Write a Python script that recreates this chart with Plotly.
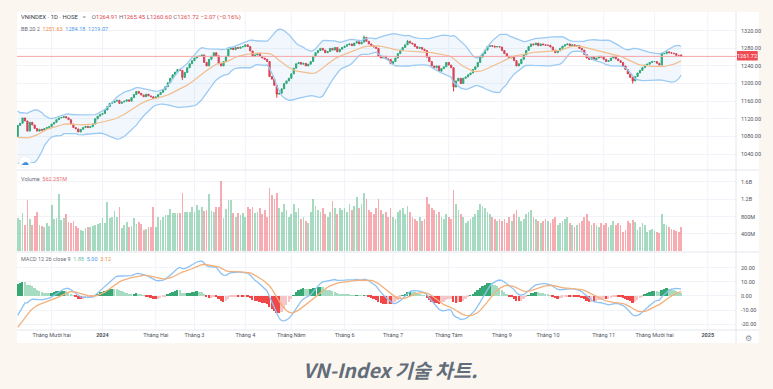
import pandas as pd
import plotly.graph_objects as go

# ---------------- data ----------------
# closes before the visible window (Aug 1 - Nov 10, 2023), used only for indicators
prior_closes = [1222, 1215, 1208, 1215, 1217, 1225, 1235, 1240, 1232, 1238, 1240, 1228, 1230,
                1177, 1175, 1170, 1180, 1185, 1178, 1180, 1176, 1180, 1180,
                1185, 1200, 1212, 1228, 1240, 1245, 1240, 1230, 1228, 1230, 1215, 1220, 1218,
                1215, 1190, 1180, 1170, 1165, 1154,
                1150, 1145, 1130, 1135, 1140, 1150, 1160, 1155, 1152, 1145, 1140, 1130, 1120,
                1115, 1105, 1085, 1080, 1065, 1040, 1030, 1030, 1028,
                1050, 1065, 1072, 1085, 1085, 1100, 1090, 1080]

# visible daily closes, Nov 13 2023 - Dec 17 2024
closes = (
    [1105, 1110, 1122, 1115, 1092, 1112, 1106, 1098, 1092, 1096, 1094, 1098, 1100, 1102]  # Nov 23
    + [1108, 1112, 1118, 1122, 1123, 1125, 1122, 1118, 1108, 1100, 1097, 1090, 1096, 1100,
       1103, 1100, 1102, 1108, 1120, 1126, 1130]  # Dec 23
    + [1132, 1140, 1148, 1155, 1157, 1160, 1162, 1155, 1158, 1160, 1163, 1160, 1168, 1175,
       1182, 1178, 1174, 1170, 1176, 1172, 1170, 1166]  # Jan
    + [1170, 1175, 1180, 1186, 1193, 1202, 1212, 1220, 1226, 1232, 1230, 1214, 1225, 1236,
       1245, 1252]  # Feb
    + [1258, 1262, 1262, 1265, 1248, 1240, 1255, 1262, 1270, 1263, 1245, 1240, 1250, 1262,
       1278, 1281, 1277, 1282, 1280, 1283, 1284]  # Mar
    + [1288, 1284, 1274, 1262, 1265, 1268, 1262, 1258, 1255, 1250, 1216, 1210, 1196, 1176,
       1178, 1188, 1200, 1206, 1212]  # Apr
    + [1222, 1235, 1245, 1248, 1244, 1246, 1240, 1244, 1250, 1262, 1270, 1275, 1280, 1276,
       1270, 1273, 1280, 1276, 1282, 1272, 1278, 1282]  # May
    + [1285, 1288, 1290, 1286, 1292, 1295, 1290, 1294, 1305, 1296, 1290, 1286, 1283, 1280,
       1262, 1258, 1262, 1256, 1255, 1245]  # Jun
    + [1250, 1258, 1268, 1276, 1282, 1288, 1296, 1292, 1290, 1284, 1280, 1282, 1278, 1275,
       1260, 1250, 1240, 1236, 1240, 1228, 1234, 1238, 1248]  # Jul
    + [1242, 1236, 1192, 1206, 1212, 1200, 1212, 1215, 1220, 1224, 1232, 1238, 1248, 1260,
       1268, 1276, 1284, 1286, 1285, 1283, 1284, 1283]  # Aug
    + [1275, 1268, 1262, 1258, 1262, 1252, 1240, 1245, 1255, 1265, 1275, 1284, 1290, 1288,
       1292, 1286, 1290, 1288, 1287]  # Sep
    + [1287, 1283, 1276, 1270, 1274, 1280, 1285, 1288, 1290, 1286, 1288, 1284, 1286, 1280,
       1276, 1266, 1258, 1255, 1260, 1254, 1258, 1262, 1260]  # Oct
    + [1255, 1250, 1252, 1258, 1262, 1256, 1252, 1248, 1240, 1232, 1222, 1214, 1206, 1216,
       1224, 1230, 1236, 1242, 1244, 1248, 1250]  # Nov
    + [1250, 1246, 1242, 1268, 1268, 1272, 1270, 1269, 1268, 1264, 1263.79, 1261.72]  # Dec
)

# notable wicks
wick_highs = {143: 1309, 161: 1299, 266: 1270}
wick_lows = {107: 1168, 180: 1182, 254: 1200, 68: 1208}

last_ohlc = [1264.91, 1265.45, 1260.60, 1261.72]
last_change = "−2.07 (−0.16%)"

# volume in millions
volumes_m = (
    [770, 720, 890, 607, 1180, 738, 607, 814, 913, 607, 584, 568, 653, 584, 1067, 738, 768,
     1313, 722, 768, 853, 683, 646, 699, 584, 531, 492, 469, 531, 568, 568, 584, 607, 623,
     646, 775, 646, 1143, 761, 798, 936, 798, 1028, 531, 607, 683, 568, 584, 761, 623, 683,
     623, 492, 508, 568, 568, 1028, 568, 798, 722, 798, 837, 837, 968, 876, 890, 876, 890,
     1336, 913, 913, 913, 1028, 913, 1067, 952, 1028, 936, 952, 1313, 936, 913, 1028, 1028,
     1625, 775, 968, 1181, 1181, 890, 798, 890, 837, 890, 798, 1028, 968, 1028, 890]
    + [900, 1000, 850, 950, 800, 1450, 1300, 1200, 1350, 1000, 900, 1100, 950, 800]
    + [850, 1100, 900, 1000, 750, 800, 700, 650, 900, 1200, 1050, 950, 900, 1000, 850, 800,
       900, 1150, 1000, 850, 1000, 950]
    + [1000, 900, 1100, 950, 1050, 1250, 1000, 1100, 1350, 1200, 950, 900, 850, 1000, 1200,
       950, 850, 900, 800, 1000]
    + [800, 750, 900, 950, 1000, 850, 1050, 900, 800, 750, 700, 800, 700, 750, 1250, 1100,
       1000, 950, 850, 900, 800, 750, 850]
    + [800, 750, 1400, 1100, 950, 850, 800, 650, 700, 750, 800, 850, 950, 1100, 1050, 1000,
       900, 850, 800, 750, 700, 750]
    + [700, 750, 650, 800, 700, 850, 950, 800, 700, 750, 850, 900, 950, 800, 750, 700, 650,
       700, 750]
    + [700, 650, 750, 800, 600, 650, 700, 750, 800, 650, 600, 550, 600, 650, 700, 800, 850,
       700, 600, 650, 600, 550, 650]
    + [600, 650, 550, 600, 700, 600, 650, 600, 450, 500, 700, 650, 720, 680, 500, 550, 650,
       600, 450, 500, 520]
    + [480, 450, 420, 860, 620, 600, 550, 520, 500, 480, 450, 562.251]
)

month_ticks = [14, 35, 57, 73, 94, 113, 135, 155, 178, 200, 219, 242, 263, 285]
month_labels = ["Tháng Mười hai", "<b>2024</b>", "Tháng Hai", "Tháng 3", "Tháng 4", "Tháng Năm",
                "Tháng 6", "Tháng 7", "Tháng Tám", "Tháng 9", "Tháng 10", "Tháng 11",
                "Tháng Mười hai", "<b>2025</b>"]
price_ticks = [1040, 1080, 1120, 1160, 1200, 1240, 1280, 1320]
vol_ticks = [400e6, 800e6, 1.2e9, 1.6e9]
vol_labels = ["400M", "800M", "1.2B", "1.6B"]
macd_ticks = [-20, -10, 0, 10, 20]
caption = "VN-Index 기술 차트."

# ---------------- indicators ----------------
n0 = len(prior_closes)
allc = pd.Series(prior_closes + closes, dtype=float)
basis = allc.rolling(20).mean()
dev = allc.rolling(20).std(ddof=0)
upper = basis + 2 * dev
lower = basis - 2 * dev
ema12 = allc.ewm(span=12, adjust=False).mean()
ema26 = allc.ewm(span=26, adjust=False).mean()
macd = ema12 - ema26
signal = macd.ewm(span=9, adjust=False).mean()
hist = macd - signal

N = len(closes)
x = list(range(N))
opens = [allc[n0 - 1 + i] for i in range(N)]
opens[-1] = last_ohlc[0]
highs = [max(o, c) for o, c in zip(opens, closes)]
lows = [min(o, c) for o, c in zip(opens, closes)]
for k, v in wick_highs.items():
    highs[k] = v
for k, v in wick_lows.items():
    lows[k] = v
highs[-1] = last_ohlc[1]
lows[-1] = last_ohlc[2]

bb_up = upper[n0:].tolist()
bb_lo = lower[n0:].tolist()
bb_mid = basis[n0:].tolist()
m_line = macd[n0:].tolist()
s_line = signal[n0:].tolist()
h_vals = hist[n0:].tolist()
h_prev = hist[n0 - 1:-1].tolist()

UP = "#2aa86c"
DN = "#e23a44"
vol_colors = ["rgba(42,168,108,0.42)" if c >= o else "rgba(235,70,80,0.45)"
              for o, c in zip(opens, closes)]
h_colors = []
for h, p in zip(h_vals, h_prev):
    if h >= 0:
        h_colors.append("#37a873" if h > p else "#a8dcc2")
    else:
        h_colors.append("#f6c6c6" if h > p else "#f04848")

# ---------------- figure ----------------
W, H = 773, 389
L, R, T, B = 17, 744, 12, 330
pw, ph = R - L, B - T


def px(xp):
    return (xp - L) / pw


def py(yp):
    return (B - yp) / ph


fig = go.Figure()

# Bollinger band fill & lines
fig.add_trace(go.Scatter(x=x, y=bb_up, mode="lines", line=dict(color="#9ccaf3", width=1.3),
                         xaxis="x", yaxis="y", hoverinfo="skip"))
fig.add_trace(go.Scatter(x=x, y=bb_lo, mode="lines", line=dict(color="#9ccaf3", width=1.3),
                         fill="tonexty", fillcolor="rgba(120,180,240,0.10)",
                         xaxis="x", yaxis="y", hoverinfo="skip"))
fig.add_trace(go.Scatter(x=x, y=bb_mid, mode="lines", line=dict(color="#f3bd8c", width=1.2),
                         xaxis="x", yaxis="y", hoverinfo="skip"))
fig.add_trace(go.Candlestick(x=x, open=opens, high=highs, low=lows, close=closes,
                             increasing=dict(line=dict(color=UP, width=1), fillcolor=UP),
                             decreasing=dict(line=dict(color=DN, width=1), fillcolor=DN),
                             whiskerwidth=0, xaxis="x", yaxis="y"))

# Volume
fig.add_trace(go.Bar(x=x, y=[v * 1e6 for v in volumes_m],
                     marker=dict(color=vol_colors, line=dict(width=0)),
                     width=0.72, xaxis="x", yaxis="y2"))

# MACD
fig.add_trace(go.Bar(x=x, y=h_vals, marker=dict(color=h_colors, line=dict(width=0)),
                     width=0.75, xaxis="x", yaxis="y3"))
fig.add_trace(go.Scatter(x=x, y=m_line, mode="lines", line=dict(color="#8ec2f4", width=1.3),
                         xaxis="x", yaxis="y3", hoverinfo="skip"))
fig.add_trace(go.Scatter(x=x, y=s_line, mode="lines", line=dict(color="#f4b07a", width=1.3),
                         xaxis="x", yaxis="y3", hoverinfo="skip"))

xr = [-0.3, (R - L) / 2.449 - 0.2]
grid = "#f1f3f8"
sep = "#e3e6ee"
axfont = dict(family="Roboto, Liberation Sans, Arial", size=5.5, color="#50535e")

shapes = [
    dict(type="rect", xref="paper", yref="paper", x0=0, x1=px(767), y0=py(343), y1=1,
         fillcolor="white", line=dict(width=0), layer="below"),
]
for t in month_ticks:
    shapes.append(dict(type="line", xref="x", yref="paper", x0=t, x1=t, y0=0, y1=1,
                       line=dict(color=grid, width=1), layer="below"))
shapes += [
    dict(type="line", xref="paper", yref="paper", x0=0, x1=px(767), y0=py(170), y1=py(170),
         line=dict(color=sep, width=1)),
    dict(type="line", xref="paper", yref="paper", x0=0, x1=px(767), y0=py(252), y1=py(252),
         line=dict(color=sep, width=1)),
    dict(type="line", xref="paper", yref="paper", x0=0, x1=px(767), y0=0, y1=0,
         line=dict(color=sep, width=1)),
    dict(type="line", xref="paper", yref="paper", x0=1, x1=1, y0=py(343), y1=1,
         line=dict(color=sep, width=1)),
    # last price line
    dict(type="line", xref="paper", yref="y", x0=0, x1=1, y0=closes[-1], y1=closes[-1],
         line=dict(color="#f5a5a8", width=1)),
    # last price tag
    dict(type="rect", xref="paper", yref="paper", x0=px(745), x1=px(766), y0=py(60.5), y1=py(51),
         fillcolor="#ee4b52", line=dict(width=0)),
    # small logo badge
    dict(type="circle", xref="paper", yref="paper", x0=px(19), x1=px(31), y0=py(168), y1=py(156),
         fillcolor="white", line=dict(color="#eef1f6", width=1)),
]


def span(t, c):
    return f"<span style='color:{c}'>{t}</span>"


def note(text, xp, yp, size, anchor="left", color=None, family="Roboto, Liberation Sans"):
    f = dict(family=family, size=size)
    if color:
        f["color"] = color
    return dict(text=text, xref="paper", yref="paper", x=px(xp), y=py(yp), xanchor=anchor,
                yanchor="middle", showarrow=False, font=f)


red = "#e0484f"
gray = "#6a6d78"
annotations = [
    note(span("VNINDEX · 1D · HOSE", "#3a3d48") + "   " + span("=", "#7a7d88") + "    "
         + span("O", gray) + span(f"{last_ohlc[0]:.2f}", red) + " "
         + span("H", gray) + span(f"{last_ohlc[1]:.2f}", red) + " "
         + span("L", gray) + span(f"{last_ohlc[2]:.2f}", red) + " "
         + span("C", gray) + span(f"{last_ohlc[3]:.2f}", red) + " "
         + span(last_change, red), 19, 17, 6),
    note(span("BB 20 2", gray) + "  " + span(f"{bb_mid[-1]:.2f}", "#f08a3c") + "  "
         + span(f"{bb_up[-1]:.2f}", "#4d9be8") + "  " + span(f"{bb_lo[-1]:.2f}", "#4d9be8"),
         19, 29, 5.5),
    note(span("Volume", gray) + "  " + span(f"{volumes_m[-1]:.3f}M", "#e86a72"), 19, 179, 5.5),
    note(span("MACD 12 26 close 9", gray) + "  " + span(f"{h_vals[-1]:.2f}", "#6fc3a8") + "  "
         + span(f"{m_line[-1]:.2f}", "#4d9be8") + "  " + span(f"{s_line[-1]:.2f}", "#f08a3c"),
         19, 259, 5.5),
    note(f"{closes[-1]:.2f}", 755.5, 55.7, 5.5, anchor="center", color="white"),
    note("☁", 25, 162, 8, anchor="center", color="#3d8fe0", family="DejaVu Sans"),
    note("⚙", 757, 338, 8, anchor="center", color="#8a8d96", family="DejaVu Sans"),
    note(f"<b><i>{caption}</i></b>", 394, 369, 19.5, anchor="center", color="#626d79",
         family="Noto Sans CJK KR, Noto Sans"),
]

fig.update_layout(
    width=W, height=H,
    margin=dict(l=L, r=W - R, t=T, b=H - B),
    paper_bgcolor="#fcf6f1", plot_bgcolor="white",
    showlegend=False, bargap=0,
    xaxis=dict(domain=[0, 1], range=xr, anchor="y3", tickmode="array", tickvals=month_ticks,
               ticktext=month_labels, showgrid=False,
               zeroline=False, showline=False, ticks="", tickfont=axfont,
               rangeslider=dict(visible=False), fixedrange=True),
    yaxis=dict(domain=[py(170), 1], range=[1003.7, 1362.5], side="right", anchor="x",
               tickmode="array", tickvals=price_ticks, ticktext=[f"{v:.2f}" for v in price_ticks],
               showgrid=True, gridcolor=grid, zeroline=False, ticks="", tickfont=axfont,
               ticklabelstandoff=4),
    yaxis2=dict(domain=[py(252), py(170)], range=[-14e6, 1.871e9], side="right", anchor="x",
                tickmode="array", tickvals=vol_ticks, ticktext=vol_labels,
                showgrid=True, gridcolor=grid, zeroline=False, ticks="", tickfont=axfont,
                ticklabelstandoff=4),
    yaxis3=dict(domain=[0, py(252)], range=[-24.2, 31.3], side="right", anchor="x",
                tickmode="array", tickvals=macd_ticks, ticktext=[f"{v:.2f}" for v in macd_ticks],
                showgrid=True, gridcolor=grid, zeroline=False, ticks="", tickfont=axfont,
                ticklabelstandoff=4),
    shapes=shapes,
    annotations=annotations,
)

fig.write_html("out.html", config={"displayModeBar": False},
               post_script="document.body.style.margin='0';document.body.style.padding='0';")
